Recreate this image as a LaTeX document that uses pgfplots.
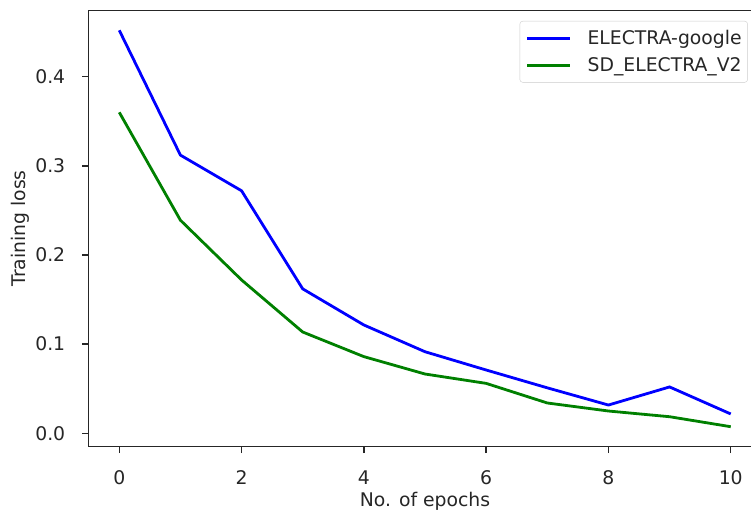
\documentclass[border=0pt]{standalone}
\usepackage{fontspec}
\setmainfont{DejaVu Sans}
\usepackage{pgfplots}
\pgfplotsset{compat=1.18}
\definecolor{mplblue}{HTML}{0000FF}
\definecolor{mplgreen}{HTML}{008000}
\begin{document}
\begin{tikzpicture}[font=\fontsize{18.8bp}{22bp}\selectfont]
\begin{axis}[
  scale only axis, width=672.6bp, height=436bp,
  xmin=-0.5, xmax=10.5, ymin=-0.0148, ymax=0.4742,
  xtick={0,2,4,6,8,10}, ytick={0,0.1,0.2,0.3,0.4},
  /pgf/number format/assume math mode=true,
  yticklabel style={/pgf/number format/fixed, /pgf/number format/fixed zerofill, /pgf/number format/precision=1},
  tick align=outside, xtick pos=bottom, ytick pos=left,
  major tick length=6.6bp,
  tick style={black!85, line width=1.5bp},
  axis line style={black!85, line width=1.5bp},
  xticklabel style={anchor=base, inner sep=0pt, yshift=-31.5bp, text=black!85},
  yticklabel style={anchor=east, inner sep=0pt, xshift=-16.7bp, text=black!85},
  xlabel={No. of epochs}, ylabel={Training loss},
  every axis x label/.style={at={([yshift=-59.5bp]axis description cs:0.5,0)}, anchor=base, text=black!85},
  every axis y label/.style={at={([xshift=-63.3bp]axis description cs:0,0.5)}, rotate=90, anchor=base, text=black!85},
  legend style={at={(0.980,0.976)}, anchor=north east, draw=black!20, rounded corners=3bp,
    fill=white, fill opacity=0.8, text opacity=1, inner xsep=6bp, inner ysep=9.5bp,
    row sep=11bp, column sep=16bp, nodes={inner sep=0pt, text=black!85}},
  legend cell align=left,
  legend image code/.code={\draw[#1] (0bp,0bp) -- (43bp,0bp);},
]
\addplot[mplblue, line width=2.8bp] coordinates {
  (0,0.452) (1,0.312) (2,0.272) (3,0.162) (4,0.1215) (5,0.0915)
  (6,0.071) (7,0.051) (8,0.0317) (9,0.052) (10,0.0217)
};
\addlegendentry{ELECTRA-google}
\addplot[mplgreen, line width=2.8bp] coordinates {
  (0,0.360) (1,0.239) (2,0.172) (3,0.1136) (4,0.086) (5,0.0665)
  (6,0.056) (7,0.034) (8,0.025) (9,0.0186) (10,0.0074)
};
\addlegendentry{SD\_ELECTRA\_V2}
\end{axis}
\pgfresetboundingbox
\useasboundingbox (-88.7bp,-63.5bp) rectangle (662.3bp,446.5bp);
\end{tikzpicture}
\end{document}
